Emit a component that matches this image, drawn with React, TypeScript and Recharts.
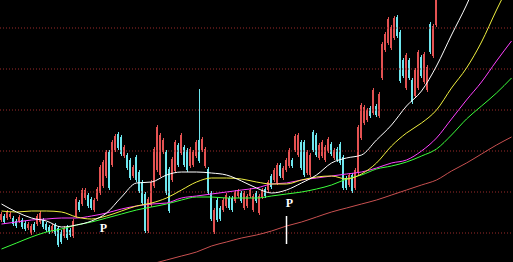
import React from "react";
import {
  ComposedChart,
  Bar,
  Line,
  XAxis,
  YAxis,
  ReferenceLine,
  ReferenceDot,
} from "recharts";

// daily candles (visible part only, the last days run off the top)
const opens = [
  24.2, 24.6, 24.4, 24.5, 24.4, 24.1, 24.1, 24.2, 23.9, 23.4, 22.9, 23.8, 23.8, 24.0, 24.2, 23.8, 23.5, 23.1, 23.7, 23.4,
  23.0, 22.6, 23.5, 23.2, 22.6, 24.6, 26.0, 25.8, 26.4, 26.7, 26.3, 25.2, 26.3, 26.9, 27.6, 28.6, 31.0, 29.7, 31.2, 32.8,
  32.5, 30.6, 30.7, 30.2, 28.6, 30.5, 29.0, 28.0, 26.8, 23.1, 25.7, 27.6, 29.2, 28.7, 31.0, 31.0, 29.3, 28.2, 29.1, 31.7,
  30.9, 31.5, 31.2, 29.6, 29.7, 30.6, 32.2, 31.2, 29.6, 29.3, 26.9, 23.0, 26.2, 25.4, 25.2, 25.6, 26.4, 26.4, 26.1, 26.6,
  26.9, 25.4, 25.6, 26.6, 25.2, 26.9, 24.9, 26.5, 27.3, 27.2, 28.6, 28.2, 27.9, 29.7, 28.4, 29.2, 29.6, 30.2, 31.2, 30.7,
  32.0, 32.0, 28.9, 28.7, 33.0, 32.7, 30.4, 30.6, 30.2, 31.1, 31.8, 30.4, 31.3, 31.8, 30.5, 28.4, 27.7, 28.7, 27.4, 28.9,
  32.4, 33.9, 34.2, 35.4, 34.9, 35.6, 34.6, 38.4, 41.2, 41.9, 41.4, 42.4, 44.5, 43.0, 40.2, 37.4, 40.2, 38.2, 36.6, 37.4,
  40.5, 38.0, 37.2, 43.8, 40.6, 43.7,
];
const closes = [
  24.8, 24.0, 25.0, 24.8, 23.8, 23.6, 24.5, 23.5, 23.3, 23.8, 23.6, 23.2, 24.6, 24.9, 23.5, 23.2, 23.0, 23.6, 22.8, 21.7,
  22.0, 23.4, 22.4, 22.7, 24.1, 26.3, 25.2, 27.2, 27.2, 25.6, 25.4, 26.2, 27.3, 29.5, 30.0, 31.0, 27.4, 32.0, 32.6, 31.4,
  30.8, 31.5, 29.4, 28.4, 29.5, 28.2, 27.1, 25.9, 23.1, 26.3, 28.0, 31.3, 33.5, 32.7, 32.2, 26.9, 25.1, 30.3, 32.0, 29.7,
  32.7, 29.7, 29.2, 31.3, 31.0, 32.0, 30.1, 32.3, 31.3, 26.9, 24.3, 25.2, 24.2, 24.3, 26.2, 26.7, 25.4, 25.2, 27.0, 27.1,
  26.1, 26.9, 26.6, 27.2, 26.6, 26.1, 26.6, 27.2, 26.6, 28.0, 27.5, 29.2, 29.7, 28.6, 29.4, 30.2, 31.2, 29.6, 32.6, 32.7,
  29.4, 28.7, 31.0, 30.7, 31.2, 30.7, 31.7, 32.0, 31.5, 32.3, 30.8, 31.2, 30.2, 29.9, 27.4, 27.4, 28.7, 27.1, 29.2, 33.5,
  35.7, 35.5, 35.2, 34.6, 37.2, 34.7, 36.8, 41.8, 42.8, 44.3, 43.5, 44.4, 42.6, 38.1, 38.6, 40.7, 38.4, 36.0, 39.2, 41.0,
  38.6, 40.8, 39.5, 41.0, 43.6, 48.0,
];
const highs = [
  25.0, 24.8, 25.2, 25.0, 24.6, 24.3, 24.7, 24.4, 24.1, 24.0, 23.8, 24.0, 24.8, 25.1, 24.4, 24.0, 23.7, 23.8, 23.9, 23.6,
  23.2, 23.6, 23.7, 23.4, 24.3, 26.5, 26.2, 27.4, 27.4, 26.9, 26.5, 26.4, 27.5, 29.7, 30.2, 31.2, 31.2, 32.2, 32.8, 33.0,
  32.7, 31.7, 30.9, 30.4, 29.7, 30.7, 29.2, 28.2, 27.0, 26.5, 28.2, 31.5, 33.7, 32.9, 32.4, 31.2, 29.5, 30.5, 32.2, 31.9,
  32.9, 31.7, 31.4, 31.5, 31.2, 32.2, 37.3, 32.5, 31.5, 29.5, 27.1, 25.4, 26.4, 25.6, 26.4, 26.9, 26.6, 26.6, 27.2, 27.3,
  27.1, 27.1, 26.8, 27.4, 26.8, 27.1, 26.8, 27.4, 27.5, 28.2, 28.8, 29.4, 29.9, 29.9, 29.6, 30.4, 31.4, 30.4, 32.8, 32.9,
  32.2, 32.2, 31.2, 30.9, 33.2, 32.9, 31.9, 32.2, 31.7, 32.5, 32.0, 31.4, 31.5, 32.0, 30.7, 28.6, 28.9, 28.9, 29.4, 33.7,
  35.9, 35.7, 35.4, 35.6, 37.4, 35.8, 37.0, 42.0, 43.0, 44.5, 43.7, 44.6, 44.7, 43.2, 40.4, 40.9, 40.4, 38.4, 39.4, 41.2,
  40.7, 41.0, 39.7, 44.0, 43.8, 48.2,
];
const lows = [
  24.0, 23.8, 24.2, 24.3, 23.6, 23.4, 23.9, 23.3, 23.1, 23.2, 22.7, 23.0, 23.6, 23.8, 23.3, 23.0, 22.8, 22.9, 22.6, 21.5,
  21.8, 22.4, 22.2, 22.5, 22.4, 24.4, 25.0, 25.6, 26.2, 25.4, 25.2, 25.0, 26.1, 26.7, 27.4, 28.4, 27.2, 29.5, 31.0, 31.2,
  30.6, 30.4, 29.2, 28.2, 28.4, 28.0, 26.9, 25.7, 22.9, 22.9, 25.5, 27.4, 29.0, 28.5, 30.8, 26.7, 24.9, 28.0, 28.9, 29.5,
  30.7, 29.5, 29.0, 29.4, 29.5, 30.4, 29.9, 31.0, 29.4, 26.7, 24.1, 22.8, 24.0, 24.1, 25.0, 25.4, 25.2, 25.0, 25.9, 26.4,
  25.9, 25.2, 25.4, 26.4, 25.0, 25.9, 24.7, 26.3, 26.4, 27.0, 27.3, 28.0, 27.7, 28.4, 28.2, 29.0, 29.4, 29.4, 31.0, 30.5,
  29.2, 28.5, 28.7, 28.5, 31.0, 30.5, 30.2, 30.4, 30.0, 30.9, 30.6, 30.2, 30.0, 29.7, 27.2, 27.2, 27.5, 26.9, 27.2, 28.7,
  32.2, 33.7, 34.0, 34.4, 34.7, 34.5, 34.4, 38.2, 41.0, 41.7, 41.2, 42.2, 42.4, 37.9, 38.4, 37.2, 38.2, 35.8, 36.4, 37.2,
  38.4, 37.8, 37.0, 40.8, 40.4, 43.5,
];

const maStep = 5;
const ma5 = [
  25.8, 25.0, 24.4, 24.1, 23.5, 23.7, 24.1, 24.9, 26.5, 27.9, 28.0, 28.7, 29.0, 29.0, 28.9, 28.7, 28.1, 27.4,
  26.9, 27.2, 27.9, 28.7, 29.9, 30.4, 30.7, 32.2, 33.7, 35.6, 37.1, 39.6, 42.7, 45.7, 49.2, null, null,
];
const ma10 = [
  25.1, 25.0, 25.1, 25.1, 25.0, 24.5, 24.3, 24.6, 25.1, 25.6, 25.9, 26.4, 27.2, 28.0, 28.4, 28.4, 28.3, 28.0,
  27.8, 27.8, 28.2, 28.5, 28.6, 28.3, 28.8, 29.9, 31.6, 32.9, 33.9, 35.2, 37.4, 39.4, 42.0, 45.2, 48.2,
];
const ma20 = [
  23.8, 24.0, 24.2, 24.3, 24.4, 24.4, 24.6, 24.9, 25.3, 25.6, 25.8, 25.9, 26.4, 26.6, 26.8, 27.0, 27.2, 27.4,
  27.8, 27.9, 28.2, 28.4, 28.6, 28.8, 29.0, 29.4, 29.9, 30.2, 31.1, 32.4, 34.3, 36.2, 38.0, 40.1, 42.1,
];
const ma30 = [
  21.3, 21.9, 22.5, 23.0, 23.3, 23.7, 24.0, 24.4, 24.8, 25.2, 25.5, 25.8, 26.2, 26.5, 26.5, 26.4, 26.4, 26.4,
  26.6, 26.8, 27.0, 27.3, 27.7, 28.3, 28.7, 29.3, 29.6, 30.0, 30.6, 31.3, 32.7, 34.3, 35.6, 36.9, 38.4,
];
const ma60 = [
  null, null, null, null, null, null, null, null, null, null, 19.8, 20.2, 20.6, 21.0, 21.6, 22.0, 22.4, 22.7,
  23.1, 23.6, 24.0, 24.5, 25.0, 25.4, 25.8, 26.2, 26.7, 27.2, 27.7, 28.2, 29.1, 29.9, 30.8, 31.7, 32.5,
];

const dayCount = 171;
const gridLevels = [22.9, 27.0, 31.1, 35.2, 39.3, 43.4];
const signalDays = [34, 96];
const signalPrices = [23.4, 25.9];
const markDay = 95;
const markRange = [24.6, 21.8];

const data = Array.from({ length: dayCount }, (_, i) => {
  const row: any = { i };
  if (i < opens.length) {
    row.open = opens[i];
    row.close = closes[i];
    row.high = highs[i];
    row.low = lows[i];
  }
  if (i % maStep === 0) {
    const k = i / maStep;
    row.ma5 = ma5[k] ?? null;
    row.ma10 = ma10[k] ?? null;
    row.ma20 = ma20[k] ?? null;
    row.ma30 = ma30[k] ?? null;
    row.ma60 = ma60[k] ?? null;
  }
  return row;
});

const Candle = (props: any) => {
  const { x, y, height, payload } = props;
  if (!payload || payload.high == null || y == null) return <g />;
  const top = Math.min(y, y + height);
  const h = Math.abs(height);
  const span = payload.high - payload.low || 1;
  const toY = (v: number) => top + ((payload.high - v) / span) * h;
  const up = payload.close >= payload.open;
  const color = up ? "#e45252" : "#6ee6ee";
  const bx = Math.round(x);
  const bTop = toY(Math.max(payload.open, payload.close));
  const bBot = toY(Math.min(payload.open, payload.close));
  return (
    <g>
      <rect x={bx + 1} y={top} width={1} height={h} fill={color} />
      <rect x={bx} y={bTop} width={2} height={Math.max(1, bBot - bTop)} fill={color} />
    </g>
  );
};

const SignalText = (p: any) => (
  <text
    x={p.cx}
    y={p.cy}
    fill="#ffffff"
    fontSize={12}
    fontWeight="bold"
    fontFamily="Liberation Serif, serif"
    textAnchor="middle"
    dominantBaseline="central"
  >
    P
  </text>
);

export default function App() {
  return (
    <div style={{ position: "fixed", left: 0, top: 0, width: 513, height: 262, background: "#000" }}>
      <ComposedChart
        width={513}
        height={262}
        data={data}
        margin={{ top: 0, right: 0, bottom: 0, left: 0 }}
        barCategoryGap={0}
        style={{ background: "#000" }}
      >
        <XAxis dataKey="i" hide />
        <YAxis hide type="number" domain={[20, 46.2]} allowDataOverflow />
        {gridLevels.map((v) => (
          <ReferenceLine key={v} y={v} stroke="#9a2a2a" strokeDasharray="1 2" />
        ))}
        <Bar
          dataKey={(d: any) => (d.high == null ? null : [d.low, d.high])}
          shape={Candle}
          isAnimationActive={false}
        />
        <Line dataKey="ma60" stroke="#c85050" dot={false} activeDot={false} connectNulls type="monotone" isAnimationActive={false} />
        <Line dataKey="ma30" stroke="#3cff3c" dot={false} activeDot={false} connectNulls type="monotone" isAnimationActive={false} />
        <Line dataKey="ma20" stroke="#ff40ff" dot={false} activeDot={false} connectNulls type="monotone" isAnimationActive={false} />
        <Line dataKey="ma10" stroke="#f0f040" dot={false} activeDot={false} connectNulls type="monotone" isAnimationActive={false} />
        <Line dataKey="ma5" stroke="#ffffff" dot={false} activeDot={false} connectNulls type="monotone" isAnimationActive={false} />
        <ReferenceLine
          segment={[
            { x: markDay, y: markRange[0] },
            { x: markDay, y: markRange[1] },
          ]}
          stroke="#ffffff"
          strokeWidth={1.5}
        />
        {signalDays.map((d, k) => (
          <ReferenceDot key={d} x={d} y={signalPrices[k]} r={3} shape={SignalText} />
        ))}
      </ComposedChart>
    </div>
  );
}
